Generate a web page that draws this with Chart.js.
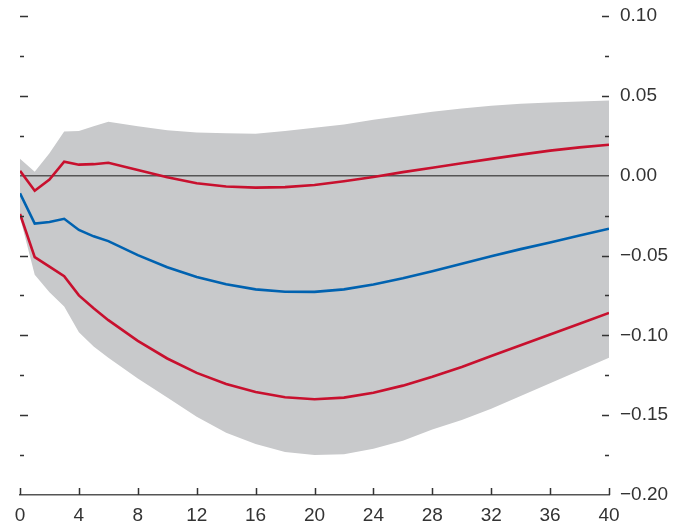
<!DOCTYPE html>
<html>
<head>
<meta charset="utf-8">
<script src="https://cdn.jsdelivr.net/npm/chart.js@4.4.1/dist/chart.umd.min.js"></script>
<style>
  body { margin: 0; background: #fff; }
  canvas { display: block; }
</style>
</head>
<body>
<canvas id="chart" width="684" height="527"></canvas>
<script>
// horizonte (trimestres) e respostas estimadas
const quarters = [0, 1, 2, 3, 4, 5, 6, 8, 10, 12, 14, 16, 18, 20, 22, 24, 26, 28, 30, 32, 34, 36, 38, 40];
const bandUpper = [0.0106, 0.0025, 0.014, 0.0276, 0.028, 0.031, 0.0338, 0.031, 0.0285, 0.027, 0.0265, 0.0263, 0.028, 0.030, 0.032, 0.035, 0.0375, 0.040, 0.042, 0.0438, 0.045, 0.0458, 0.0465, 0.047];
const bandLower = [-0.026, -0.062, -0.073, -0.082, -0.098, -0.107, -0.114, -0.127, -0.139, -0.151, -0.161, -0.168, -0.173, -0.175, -0.1745, -0.171, -0.166, -0.159, -0.153, -0.146, -0.138, -0.130, -0.122, -0.114];
const redUpper = [0.003, -0.0094, -0.0025, 0.0088, 0.0069, 0.0072, 0.0081, 0.0035, -0.001, -0.0048, -0.0068, -0.0075, -0.0072, -0.0058, -0.0035, -0.0008, 0.0022, 0.005, 0.0078, 0.0105, 0.0132, 0.0157, 0.0177, 0.0194];
const redLower = [-0.024, -0.051, -0.057, -0.063, -0.075, -0.083, -0.0905, -0.1035, -0.1145, -0.1235, -0.1305, -0.1355, -0.1388, -0.140, -0.139, -0.136, -0.1315, -0.126, -0.1198, -0.113, -0.1062, -0.0995, -0.0928, -0.086];
const blueLine = [-0.011, -0.030, -0.029, -0.027, -0.034, -0.038, -0.041, -0.0498, -0.0573, -0.0634, -0.068, -0.0712, -0.0727, -0.0728, -0.0712, -0.0682, -0.0643, -0.0598, -0.0551, -0.0505, -0.046, -0.0418, -0.0375, -0.0332];
const zeroLine = [0, 0];
const zeroX = [0, 40];
const yTicks = [0.10, 0.05, 0.00, -0.05, -0.10, -0.15, -0.20];
const xTicks = [0, 4, 8, 12, 16, 20, 24, 28, 32, 36, 40];

const RED = '#c8102e';
const BLUE = '#0062b0';
const GREY = '#c8c9cb';
const INK = '#333333';
const FONT = '"Liberation Sans", Arial, sans-serif';

function pts(ys) {
    return ys.map((y, i) => ({ x: quarters[i], y: y }));
}

function fmt(v) {
    const s = Math.abs(v).toFixed(2);
    return v < -1e-9 ? '\u2212' + s : s;
}

// marcas de escala desenhadas dentro da área do gráfico
const tickMarks = {
    id: 'tickMarks',
    afterDraw(chart) {
        const ctx = chart.ctx;
        const area = chart.chartArea;
        const ys = chart.scales.y;
        const xs = chart.scales.x;
        ctx.save();
        ctx.strokeStyle = INK;
        ctx.lineWidth = 1.5;
        ctx.beginPath();
        for (let i = 1; i <= 12; i++) {
            const v = -0.2 + i * 0.025;
            if (Math.abs(v) < 1e-9) continue;
            const major = i % 2 === 0;
            const py = Math.round(ys.getPixelForValue(v)) + 0.5;
            ctx.moveTo(area.left, py);
            ctx.lineTo(area.left + (major ? 8 : 4), py);
            ctx.moveTo(area.right, py);
            ctx.lineTo(area.right - (major ? 7 : 4), py);
        }
        for (const t of xTicks) {
            const px = Math.round(xs.getPixelForValue(t)) + 0.5;
            ctx.moveTo(px, area.bottom);
            ctx.lineTo(px, area.bottom - 7);
        }
        ctx.stroke();
        ctx.restore();
    }
};

new Chart(document.getElementById('chart').getContext('2d'), {
    type: 'line',
    data: {
        datasets: [
            {
                data: pts(bandUpper),
                borderWidth: 0,
                pointRadius: 0,
                backgroundColor: GREY,
                fill: '+1',
                order: 5
            },
            {
                data: pts(bandLower),
                borderWidth: 0,
                pointRadius: 0,
                fill: false,
                order: 5
            },
            {
                data: zeroLine.map((y, i) => ({ x: zeroX[i], y: y })),
                borderColor: '#555555',
                borderWidth: 1.5,
                pointRadius: 0,
                order: 4
            },
            {
                data: pts(redUpper),
                borderColor: RED,
                borderWidth: 2.6,
                pointRadius: 0,
                order: 1
            },
            {
                data: pts(blueLine),
                borderColor: BLUE,
                borderWidth: 2.6,
                pointRadius: 0,
                order: 1
            },
            {
                data: pts(redLower),
                borderColor: RED,
                borderWidth: 2.6,
                pointRadius: 0,
                order: 1
            }
        ]
    },
    options: {
        responsive: false,
        animation: false,
        layout: { padding: { left: 20, top: 16, right: 0, bottom: 0 } },
        plugins: {
            legend: { display: false },
            tooltip: { enabled: false }
        },
        scales: {
            x: {
                type: 'linear',
                min: 0,
                max: 40,
                afterBuildTicks: (s) => { s.ticks = xTicks.map(v => ({ value: v })); },
                afterFit: (s) => { s.height = 32; s.paddingLeft = 0; s.paddingRight = 0; },
                grid: { display: false, drawTicks: false },
                border: { display: true, color: '#555555', width: 1.5 },
                ticks: {
                    color: INK,
                    font: { family: FONT, size: 19 },
                    padding: 9,
                    maxRotation: 0,
                    autoSkip: false
                }
            },
            y: {
                position: 'right',
                min: -0.2,
                max: 0.1,
                afterBuildTicks: (s) => { s.ticks = yTicks.map(v => ({ value: v })); },
                afterFit: (s) => { s.width = 75; s.paddingTop = 0; s.paddingBottom = 0; },
                grid: { display: false, drawTicks: false },
                border: { display: false },
                ticks: {
                    color: INK,
                    font: { family: FONT, size: 19 },
                    padding: 11,
                    callback: (v) => fmt(v)
                }
            }
        }
    },
    plugins: [tickMarks]
});
</script>
</body>
</html>
